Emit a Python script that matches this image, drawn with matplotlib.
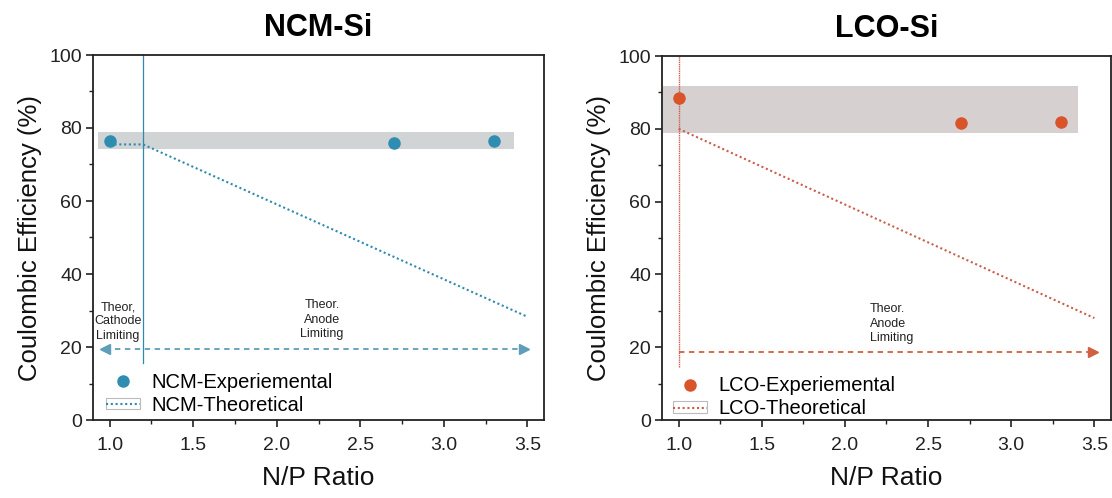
import matplotlib
matplotlib.use("Agg")
import matplotlib.pyplot as plt
from matplotlib.patches import Rectangle
from matplotlib.lines import Line2D
from matplotlib.legend_handler import HandlerTuple
from matplotlib.ticker import MultipleLocator

plt.rcParams['font.family'] = ['Liberation Sans', 'DejaVu Sans']

# ---- data ----
np_exp = [1.0, 2.7, 3.3]
ncm_exp = [76.5, 76.0, 76.5]
lco_exp = [88.5, 81.5, 81.8]

ncm_theo_x = [1.0, 1.2, 3.5]
ncm_theo_y = [75.5, 75.5, 28.3]
lco_theo_x = [1.0, 3.5]
lco_theo_y = [80.0, 28.0]

ncm_band = (0.93, 3.42, 74.2, 79.0)   # x0, x1, y0, y1
lco_band = (0.905, 3.40, 78.8, 91.8)

ncm_limit_x = 1.2
lco_limit_x = 1.0
ncm_limit_y = (15.6, 100)
lco_limit_y = (14.6, 100)

ncm_arrow = (0.97, 3.48, 19.5)
lco_arrow = (1.0, 3.49, 18.8)

titles = ["NCM-Si", "LCO-Si"]
xticks = [1.0, 1.5, 2.0, 2.5, 3.0, 3.5]
yticks = [0, 20, 40, 60, 80, 100]

blue = '#2f8db2'
blue_line = '#2f8ab0'
blue_arrow = '#5f9db8'
orange = '#d9542b'
orange_line = '#c8604a'
orange_arrow = '#d0603f'

W, H = 1112, 498
fig = plt.figure(figsize=(W / 100, H / 100), dpi=100)

def px_axes(l, r, t, b):
    return fig.add_axes([l / W, 1 - b / H, (r - l) / W, (b - t) / H])

ax1 = px_axes(93, 544, 55, 420)
ax2 = px_axes(662, 1111, 56, 420)

def style(ax, title):
    ax.set_xlim(0.9, 3.6)
    ax.set_ylim(0, 100)
    ax.set_xticks(xticks)
    ax.set_xticklabels([f"{v:.1f}" for v in xticks])
    ax.set_yticks(yticks)
    ax.xaxis.set_minor_locator(MultipleLocator(0.25))
    ax.yaxis.set_minor_locator(MultipleLocator(10))
    ax.tick_params(which='major', direction='out', length=5, width=1.2,
                   labelsize=14, colors='#222222', pad=3)
    ax.tick_params(which='minor', direction='out', length=3, width=1.0, colors='#222222')
    ax.tick_params(axis='x', which='major', pad=7)
    for s in ax.spines.values():
        s.set_linewidth(1.3)
        s.set_color('#222222')
    ax.set_xlabel("N/P Ratio", fontsize=19, labelpad=9, color='#111111')
    ax.set_ylabel("Coulombic Efficiency (%)", fontsize=18.5, labelpad=5, color='#111111')
    ax.set_title(title, fontsize=22, fontweight='bold', pad=14)

style(ax1, titles[0])
style(ax2, titles[1])

# ---- NCM panel ----
x0, x1, y0, y1 = ncm_band
ax1.add_patch(Rectangle((x0, y0), x1 - x0, y1 - y0, facecolor='#d1d4d5', edgecolor='none', zorder=1))
ax1.plot([ncm_limit_x, ncm_limit_x], ncm_limit_y, color=blue_line, lw=0.9, zorder=2)
ax1.plot(ncm_theo_x, ncm_theo_y, color=blue_line, lw=1.5, linestyle=(0, (1, 1.3)), zorder=3)
ax1.plot(np_exp, ncm_exp, 'o', color=blue, markersize=8, zorder=4)
ax1.plot([ncm_arrow[0], ncm_arrow[1]], [ncm_arrow[2]] * 2, color=blue_arrow, lw=1.3,
         linestyle=(0, (3, 2.5)), zorder=3)
ax1.plot([ncm_arrow[0]], [ncm_arrow[2]], marker='<', color=blue_arrow, markersize=7, zorder=4)
ax1.plot([ncm_arrow[1]], [ncm_arrow[2]], marker='>', color=blue_arrow, markersize=7, zorder=4)
ax1.text(1.05, 27.0, "Theor,\nCathode\nLimiting", fontsize=9, ha='center', va='center',
         color='#222222', linespacing=1.25)
ax1.text(2.27, 27.5, "Theor.\nAnode\nLimiting", fontsize=9, ha='center', va='center',
         color='#222222', linespacing=1.25)

h_exp1 = Line2D([], [], marker='o', linestyle='none', color=blue, markersize=8)
h_box1 = Rectangle((0, 0), 1, 1, facecolor='white', edgecolor='#bbbbbb', lw=0.8)
h_line1 = Line2D([], [], color=blue_line, lw=1.5, linestyle=(0, (1, 1.3)))
ax1.legend([h_exp1, (h_box1, h_line1)], ["NCM-Experiemental", "NCM-Theoretical"],
           handler_map={tuple: HandlerTuple(ndivide=1, pad=0)},
           loc='upper left', bbox_to_anchor=(0.028, 0.13), frameon=False,
           fontsize=14.5, handlelength=1.7, handleheight=0.5, handletextpad=0.55,
           labelspacing=0.2, borderpad=0, borderaxespad=0)

# ---- LCO panel ----
x0, x1, y0, y1 = lco_band
ax2.add_patch(Rectangle((x0, y0), x1 - x0, y1 - y0, facecolor='#d6d0d0', edgecolor='none', zorder=1))
ax2.plot([lco_limit_x, lco_limit_x], lco_limit_y, color=orange_line, lw=1.0,
         linestyle=(0, (1, 0.6)), zorder=2)
ax2.plot(lco_theo_x, lco_theo_y, color=orange_line, lw=1.5, linestyle=(0, (1, 1.3)), zorder=3)
ax2.plot(np_exp, lco_exp, 'o', color=orange, markersize=8, zorder=4)
ax2.plot([lco_arrow[0], lco_arrow[1]], [lco_arrow[2]] * 2, color=orange_arrow, lw=1.3,
         linestyle=(0, (3, 2.5)), zorder=3)
ax2.plot([lco_arrow[1]], [lco_arrow[2]], marker='>', color=orange_arrow, markersize=7, zorder=4)
ax2.text(2.15, 26.5, "Theor.\nAnode\nLimiting", fontsize=9, ha='left', va='center',
         color='#222222', linespacing=1.25)

h_exp2 = Line2D([], [], marker='o', linestyle='none', color=orange, markersize=8)
h_box2 = Rectangle((0, 0), 1, 1, facecolor='white', edgecolor='#bbbbbb', lw=0.8)
h_line2 = Line2D([], [], color=orange_line, lw=1.5, linestyle=(0, (1, 1.3)))
ax2.legend([h_exp2, (h_box2, h_line2)], ["LCO-Experiemental", "LCO-Theoretical"],
           handler_map={tuple: HandlerTuple(ndivide=1, pad=0)},
           loc='upper left', bbox_to_anchor=(0.025, 0.12), frameon=False,
           fontsize=14.5, handlelength=1.7, handleheight=0.5, handletextpad=0.55,
           labelspacing=0.2, borderpad=0, borderaxespad=0)

fig.savefig("out.png", dpi=100)
